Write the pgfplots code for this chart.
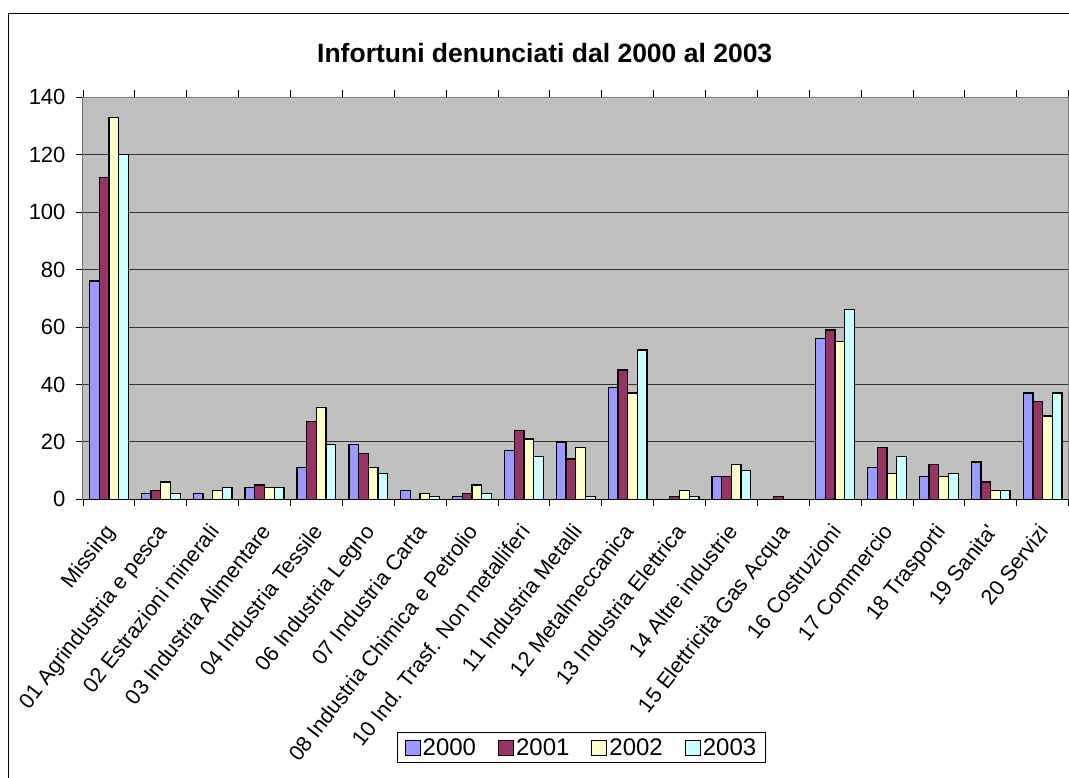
\documentclass[border=0pt]{standalone}
\usepackage{fontspec}
\setmainfont{Liberation Sans}
\usepackage{pgfplots}
\usepackage{pgfplotstable}
\pgfplotsset{compat=1.18}

\definecolor{c2000}{HTML}{9999FF}
\definecolor{c2001}{HTML}{993366}
\definecolor{c2002}{HTML}{FFFFCC}
\definecolor{c2003}{HTML}{CCFFFF}
\definecolor{plotbg}{HTML}{C0C0C0}
\definecolor{frame}{HTML}{808080}

% infortuni per settore, 2000-2003
\pgfplotstableread{
x  a   b   c   d
0  76  112 133 120
1  2   3   6   2
2  2   0   3   4
3  4   5   4   4
4  11  27  32  19
5  19  16  11  9
6  3   0   2   1
7  1   2   5   2
8  17  24  21  15
9  20  14  18  1
10 39  45  37  52
11 0   1   3   1
12 8   8   12  10
13 0   1   0   0
14 56  59  55  66
15 11  18  9   15
16 8   12  8   9
17 13  6   3   3
18 37  34  29  37
}\infortuni

\begin{document}
\begin{tikzpicture}
\useasboundingbox (0pt,0pt) rectangle (1069pt,778pt);
\fill[white] (0pt,0pt) rectangle (1069pt,778pt);
\draw[black, line width=1pt] (8.3pt,-20pt) rectangle (1100pt,764pt);
\node[font=\fontsize{26.5}{30}\selectfont\bfseries] at (544.7pt,725pt) {Infortuni denunciati dal 2000 al 2003};

\begin{axis}[
    at={(83pt,278.7pt)}, anchor=south west,
    scale only axis,
    width=985.5pt, height=402pt,
    xmin=-0.5, xmax=18.5,
    ymin=0, ymax=140,
    ybar=0pt, bar width=9.7pt,
    axis background/.style={fill=plotbg},
    axis line style={draw=frame, line width=1pt},
    ymajorgrids, grid style={black!80, line width=0.8pt},
    ytick={0,20,...,140},
    tick align=outside,
    major tick length=7pt,
    tick style={black, line width=0.8pt},
    xtick={0,...,18},
    x tick style={draw=none},
    xticklabels={Missing, 01 Agrindustria e pesca, 02 Estrazioni minerali,
        03 Industria Alimentare, 04 Industria Tessile, 06 Industria Legno,
        07 Industria Carta, 08 Industria Chimica e Petrolio,
        10 Ind. Trasf. Non metalliferi, 11 Industria Metalli,
        12 Metalmeccanica, 13 Industria Elettrica, 14 Altre industrie,
        15 Elettricità Gas Acqua, 16 Costruzioni, 17 Commercio,
        18 Trasporti, 19 Sanita\textquotesingle, 20 Servizi},
    extra x ticks={-0.5,0.5,...,18.5},
    extra x tick labels={},
    extra x tick style={grid=none, x tick style={draw=black, line width=0.8pt}},
    yticklabel style={font=\fontsize{22}{26}\selectfont, xshift=-7pt},
    xticklabel style={font=\fontsize{21.5}{25}\selectfont, xshift=-5pt, yshift=-16pt,
        rotate=52, anchor=north east, inner sep=0pt},
    /pgf/number format/assume math mode=true,
    unbounded coords=discard,
    legend columns=4,
    legend style={at={(axis description cs:0.3188,-0.5789)}, anchor=north west,
        draw=black, line width=1pt, fill=white,
        font=\fontsize{24}{28}\selectfont,
        inner xsep=7pt, inner ysep=4pt,
        /tikz/every even column/.append style={column sep=20pt}},
    legend image code/.code={\draw[#1, line width=1pt] (0pt,-7.5pt) rectangle (15pt,7.5pt);},
    bars/.style={draw=black, line width=1.3pt, y filter/.expression={y==0 ? nan : y}},
]
\addplot[bars, fill=c2000] table[x=x, y=a] {\infortuni};
\addplot[bars, fill=c2001] table[x=x, y=b] {\infortuni};
\addplot[bars, fill=c2002] table[x=x, y=c] {\infortuni};
\addplot[bars, fill=c2003] table[x=x, y=d] {\infortuni};
\legend{2000, 2001, 2002, 2003}
\draw[black, line width=1pt] (rel axis cs:0,0) -- (rel axis cs:1,0);
\draw[black, line width=1pt] (rel axis cs:0,0) -- (rel axis cs:0,1);
\end{axis}
\end{tikzpicture}
\end{document}
